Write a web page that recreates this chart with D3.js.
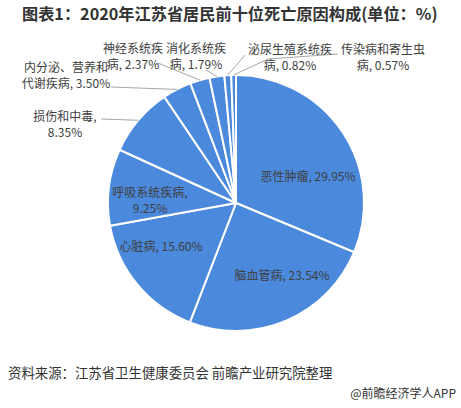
<!DOCTYPE html>
<html>
<head>
<meta charset="utf-8">
<script src="https://cdn.jsdelivr.net/npm/d3@7"></script>
<style>
  body { margin: 0; background: #fff; }
  text { font-family: "Microsoft YaHei", "Noto Sans CJK SC", sans-serif; }
</style>
</head>
<body>
<script>
// data
var causes = ["恶性肿瘤", "脑血管病", "心脏病", "呼吸系统疾病", "损伤和中毒",
  "内分泌、营养和代谢疾病", "神经系统疾病", "消化系统疾病", "泌尿生殖系统疾病", "传染病和寄生虫病"];
var shares = [29.95, 23.54, 15.60, 9.25, 8.35, 3.50, 2.37, 1.79, 0.82, 0.57];
// label text split into lines
var labelLines = [
  ["恶性肿瘤, 29.95%"],
  ["脑血管病, 23.54%"],
  ["心脏病, 15.60%"],
  ["呼吸系统疾病,", "9.25%"],
  ["损伤和中毒,", "8.35%"],
  ["内分泌、营养和", "代谢疾病, 3.50%"],
  ["神经系统疾", "病, 2.37%"],
  ["消化系统疾", "病, 1.79%"],
  ["泌尿生殖系统疾", "病, 0.82%"],
  ["传染病和寄生虫", "病, 0.57%"]
];

var w = 461, h = 408;
var cx = 236, cy = 203, r = 128;

var svg = d3.select("body").append("svg")
  .attr("width", w)
  .attr("height", h);

svg.append("text")
  .attr("x", 22).attr("y", 20)
  .attr("font-size", 16.2).attr("font-weight", "bold")
  .attr("fill", "#333")
  .text("图表1：2020年江苏省居民前十位死亡原因构成(单位：%)");

var data = causes.map(function(c, i) { return { name: c, value: shares[i], lines: labelLines[i] }; });

var pie = d3.pie().sort(null).value(function(d) { return d.value; });
var arc = d3.arc().innerRadius(0).outerRadius(r);
var arcs = pie(data);

var g = svg.append("g").attr("transform", "translate(" + cx + "," + cy + ")");

g.selectAll("path").data(arcs).enter().append("path")
  .attr("d", arc)
  .attr("fill", "#4a89dc")
  .attr("stroke", "#fff")
  .attr("stroke-width", 2)
  .attr("stroke-linejoin", "round");

// label positions (relative to page), in slice order
var labelPos = [[308, 181], [282, 280], [161, 251], [150, 197], [65, 121],
  [66, 72], [133, 53], [196, 53], [290, 54], [383, 54]];

function edge(a) {
  var m = (a.startAngle + a.endAngle) / 2;
  return [cx + r * Math.sin(m), cy - r * Math.cos(m)];
}

// leader lines for outside labels
var leaders = [
  { i: 4, pts: [[101, 119]] },
  { i: 5, pts: [[111, 87]] },
  { i: 6, pts: [[158, 63]] },
  { i: 7, pts: [[206, 70]] },
  { i: 8, pts: [[245, 55]] },
  { i: 9, pts: [[338, 54], [268, 59]] }
];
var line = d3.line();
svg.selectAll(".leader").data(leaders).enter().append("path")
  .attr("class", "leader")
  .attr("fill", "none")
  .attr("stroke", "#a6a6a6")
  .attr("stroke-width", 1)
  .attr("d", function(d) { return line(d.pts.concat([edge(arcs[d.i])])); });

var labels = svg.selectAll(".lbl").data(arcs).enter().append("text")
  .attr("class", "lbl")
  .attr("text-anchor", "middle")
  .attr("font-size", 12)
  .attr("fill", "#404040")
  .attr("transform", function(d, i) { return "translate(" + labelPos[i] + ")"; });

labels.selectAll("tspan").data(function(d) { return d.data.lines; }).enter().append("tspan")
  .attr("x", 0)
  .attr("dy", function(t, j) { return j === 0 ? 0 : 16; })
  .text(function(t) { return t; });

svg.append("text")
  .attr("x", 8).attr("y", 378)
  .attr("font-size", 13.4).attr("fill", "#333")
  .text("资料来源：江苏省卫生健康委员会 前瞻产业研究院整理");

svg.append("text")
  .attr("x", 456).attr("y", 398)
  .attr("text-anchor", "end")
  .attr("font-size", 12).attr("fill", "#333")
  .text("@前瞻经济学人APP");
</script>
</body>
</html>
